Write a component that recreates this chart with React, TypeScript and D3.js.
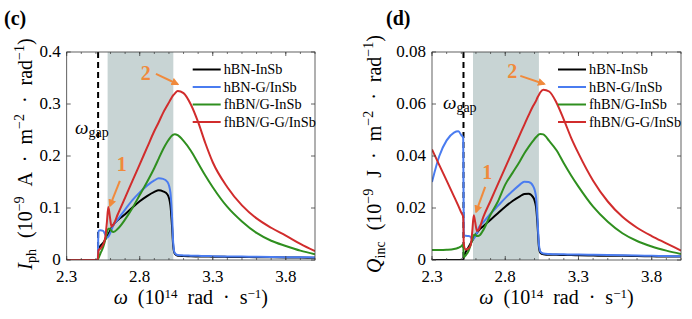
import React from "react";
import * as d3 from "d3";

// frequency grid, 10^14 rad/s
const omega = [
  2.30, 2.35, 2.40, 2.45, 2.48, 2.50, 2.513, 2.517, 2.53, 2.55, 2.565, 2.575, 2.585, 2.595,
  2.607, 2.62, 2.65, 2.70, 2.75, 2.80, 2.85, 2.90, 2.93, 2.96, 2.99, 3.01, 3.02, 3.03, 3.04,
  3.06, 3.10, 3.15, 3.20, 3.25, 3.30, 3.40, 3.50, 3.60, 3.70, 3.80, 3.90, 4.00,
];

// (c) photocurrent I_ph
const iphBlack = [
  0, 0, 0, 0, 0, 0, 0, 0.02, 0.027, 0.033, 0.04, 0.045, 0.05, 0.055, 0.062, 0.068, 0.077,
  0.088, 0.101, 0.113, 0.123, 0.131, 0.134, 0.132, 0.126, 0.105, 0.07, 0.025, 0.012, 0.008,
  0.0075, 0.007, 0.0068, 0.0066, 0.0064, 0.006, 0.0057, 0.0054, 0.0051, 0.0048, 0.0046, 0.0044,
];
const iphBlue = [
  0, 0, 0, 0, 0, 0, 0, 0.055, 0.057, 0.056, 0.048, 0.043, 0.045, 0.05, 0.058, 0.067, 0.078,
  0.097, 0.115, 0.13, 0.143, 0.153, 0.157, 0.156, 0.15, 0.13, 0.09, 0.03, 0.013, 0.0095,
  0.0088, 0.0084, 0.008, 0.0077, 0.0074, 0.0069, 0.0065, 0.0061, 0.0058, 0.0055, 0.0052, 0.0049,
];
const iphGreen = [
  0, 0, 0, 0, 0, 0, 0, 0.003, 0.012, 0.025, 0.04, 0.052, 0.06, 0.06, 0.056, 0.054, 0.06,
  0.078, 0.1, 0.125, 0.15, 0.177, 0.195, 0.213, 0.228, 0.236, 0.239, 0.241, 0.242, 0.24,
  0.229, 0.21, 0.186, 0.162, 0.14, 0.102, 0.074, 0.052, 0.037, 0.027, 0.018, 0.011,
];
const iphRed = [
  0, 0, 0, 0, 0, 0, 0, 0.018, 0.022, 0.03, 0.045, 0.072, 0.102, 0.085, 0.064, 0.068, 0.088,
  0.12, 0.152, 0.184, 0.216, 0.248, 0.265, 0.283, 0.298, 0.308, 0.313, 0.317, 0.32, 0.325,
  0.321, 0.299, 0.265, 0.224, 0.188, 0.14, 0.105, 0.08, 0.062, 0.047, 0.031, 0.017,
];

// (d) incident heat flux Q_inc
const qincBlack = [
  0, 0, 0, 0, 0, 0, 0, 0.001, 0.003, 0.005, 0.0065, 0.0075, 0.0085, 0.0095, 0.0105, 0.0115,
  0.013, 0.0155, 0.018, 0.0205, 0.0227, 0.0245, 0.0254, 0.0255, 0.0242, 0.0205, 0.014, 0.005,
  0.0028, 0.0022, 0.002, 0.002, 0.0019, 0.0019, 0.0018, 0.0017, 0.0016, 0.0016, 0.0015,
  0.0014, 0.0013, 0.0013,
];
const qincBlue = [
  0.03, 0.04, 0.046, 0.049, 0.0495, 0.048, 0.047, 0.0095, 0.0093, 0.0092, 0.0088, 0.0078,
  0.0082, 0.009, 0.0105, 0.0125, 0.0145, 0.0178, 0.0208, 0.0238, 0.0265, 0.029, 0.0301, 0.03,
  0.0285, 0.0245, 0.016, 0.006, 0.0032, 0.0025, 0.0023, 0.0022, 0.0022, 0.0021, 0.0021, 0.002,
  0.0019, 0.0018, 0.0017, 0.0016, 0.0015, 0.0014,
];
const qincGreen = [
  0.0038, 0.0038, 0.0039, 0.0042, 0.0047, 0.0053, 0.006, 0.001, 0.0018, 0.0035, 0.006, 0.0078,
  0.0095, 0.0098, 0.0092, 0.0093, 0.0115, 0.0175, 0.0225, 0.029, 0.0335, 0.038, 0.041, 0.0435,
  0.0458, 0.0472, 0.0478, 0.0483, 0.0485, 0.0483, 0.0458, 0.0422, 0.0372, 0.0325, 0.0282,
  0.0205, 0.0147, 0.0103, 0.0073, 0.0052, 0.0036, 0.0023,
];
const qincRed = [
  0.0425, 0.0365, 0.0305, 0.0245, 0.0208, 0.0182, 0.0165, 0.006, 0.004, 0.0045, 0.006, 0.011,
  0.0172, 0.0145, 0.0112, 0.0118, 0.0165, 0.0228, 0.0292, 0.0355, 0.0419, 0.0482, 0.052,
  0.0557, 0.0592, 0.0612, 0.0625, 0.0635, 0.0645, 0.0655, 0.0648, 0.0605, 0.054, 0.047,
  0.041, 0.0305, 0.0225, 0.0166, 0.0124, 0.0092, 0.0064, 0.0036,
];

const seriesNames = ["hBN-InSb", "hBN-G/InSb", "fhBN/G-InSb", "fhBN/G-G/InSb"];
const seriesColors = ["#000000", "#4a7cf0", "#2f8f1f", "#d12c2c"];
const xTicks = [2.3, 2.8, 3.3, 3.8];
const iphTicks = [0, 0.1, 0.2, 0.3, 0.4];
const qincTicks = [0, 0.02, 0.04, 0.06, 0.08];
const omegaGap = 2.515;
const shadeBand = [2.58, 3.03];

const serif = '"Liberation Serif", "Times New Roman", serif';
const orange = "#f08a3c";
const axisColor = "#3a3a3a";

const Panel = ({ left, right, top, bottom, yMax, yTicks, fmt, series, letter, letterX, yLabX, yLab, notes, gapLabel }: any) => {
  const x = d3.scaleLinear().domain([2.3, 4.0]).range([left, right]);
  const y = d3.scaleLinear().domain([0, yMax]).range([bottom, top]);
  const line = d3.line<number>()
    .x((_, i) => x(omega[i]))
    .y(d => y(d))
    .curve(d3.curveMonotoneX);
  const minor = d3.range(23, 41).map(v => v / 10);
  const clipId = "clip" + letter;

  return (
    <g fontFamily={serif}>
      <defs>
        <clipPath id={clipId}>
          <rect x={left} y={top} width={right - left} height={bottom - top} />
        </clipPath>
      </defs>
      <text x={letterX} y={25} fontSize={20} fontWeight="bold">({letter})</text>

      <rect x={x(shadeBand[0])} y={top} width={x(shadeBand[1]) - x(shadeBand[0])} height={bottom - top} fill="#c8d4d4" />
      <line x1={x(omegaGap)} x2={x(omegaGap)} y1={top} y2={bottom} stroke="#000" strokeWidth={2} strokeDasharray="6 4" />

      <g clipPath={`url(#${clipId})`}>
        {series.map((s: number[], i: number) => (
          <path key={i} d={line(s) || ""} fill="none" stroke={seriesColors[i]} strokeWidth={2} strokeLinejoin="round" />
        ))}
      </g>

      {/* axes box */}
      <rect x={left} y={top} width={right - left} height={bottom - top} fill="none" stroke={axisColor} strokeWidth={0.8} />
      {xTicks.map(t => (
        <g key={t}>
          <line x1={x(t)} x2={x(t)} y1={bottom} y2={bottom - 4} stroke={axisColor} strokeWidth={0.8} />
          <line x1={x(t)} x2={x(t)} y1={top} y2={top + 4} stroke={axisColor} strokeWidth={0.8} />
          <text x={x(t)} y={bottom + 22} fontSize={17} textAnchor="middle">{t.toFixed(1)}</text>
        </g>
      ))}
      {minor.map(t => (
        <g key={"m" + t}>
          <line x1={x(t)} x2={x(t)} y1={bottom} y2={bottom - 2} stroke={axisColor} strokeWidth={0.7} />
          <line x1={x(t)} x2={x(t)} y1={top} y2={top + 2} stroke={axisColor} strokeWidth={0.7} />
        </g>
      ))}
      {yTicks.map((t: number) => (
        <g key={t}>
          <line x1={left} x2={left + 4} y1={y(t)} y2={y(t)} stroke={axisColor} strokeWidth={0.8} />
          <line x1={right} x2={right - 4} y1={y(t)} y2={y(t)} stroke={axisColor} strokeWidth={0.8} />
          <text x={left - 6} y={y(t)} dy="0.3em" fontSize={17} textAnchor="end">{fmt(t)}</text>
        </g>
      ))}

      {/* axis labels */}
      <text x={(left + right) / 2} y={304} fontSize={20} textAnchor="middle" wordSpacing={5}>
        <tspan fontStyle="italic">ω</tspan>
        <tspan> (10</tspan>
        <tspan fontSize={13} dy={-6}>14</tspan>
        <tspan dy={6}> rad · s</tspan>
        <tspan fontSize={13} dy={-6}>−1</tspan>
        <tspan dy={6}>)</tspan>
      </text>
      <text transform={`translate(${yLabX},${154}) rotate(-90)`} fontSize={20} textAnchor="middle" wordSpacing={6}>
        <tspan fontStyle="italic">{yLab[0]}</tspan>
        <tspan fontSize={14} dy={4}>{yLab[1]}</tspan>
        <tspan dy={-4}> (10</tspan>
        <tspan fontSize={14} dy={-8}>−9</tspan>
        <tspan dy={8}> {yLab[2]} · m</tspan>
        <tspan fontSize={14} dy={-8}>−2</tspan>
        <tspan dy={8}> · rad</tspan>
        <tspan fontSize={14} dy={-8}>−1</tspan>
        <tspan dy={8}>)</tspan>
      </text>

      {/* gap label */}
      <text x={x(gapLabel[0])} y={y(gapLabel[1])} fontSize={19}>
        <tspan fontStyle="italic">ω</tspan>
        <tspan fontSize={14} dy={3}>gap</tspan>
      </text>

      {/* legend */}
      {seriesNames.map((n, i) => (
        <g key={n}>
          <line x1={left + 126} x2={left + 154} y1={top + 17.5 + i * 17.5} y2={top + 17.5 + i * 17.5} stroke={seriesColors[i]} strokeWidth={2} />
          <text x={left + 157} y={top + 17.5 + i * 17.5} dy="0.33em" fontSize={14.3}>{n}</text>
        </g>
      ))}

      {/* peak annotations */}
      {notes.map((a: any) => (
        <g key={a.label}>
          <text x={x(a.tx)} y={y(a.ty)} dy="0.35em" fontSize={20} fontWeight="bold" fill={orange} textAnchor="middle">{a.label}</text>
          <line x1={x(a.from[0])} y1={y(a.from[1])} x2={x(a.to[0])} y2={y(a.to[1])} stroke={orange} strokeWidth={2} markerEnd="url(#arrowOrange)" />
        </g>
      ))}
    </g>
  );
};

const App = () => {
  return (
    <svg width={692} height={319} style={{ position: "absolute", left: 0, top: 0, background: "#fff" }}>
      <defs>
        <marker id="arrowOrange" viewBox="0 0 10 10" refX={8} refY={5} markerWidth={4} markerHeight={4} orient="auto">
          <path d="M0,0 L10,5 L0,10 z" fill={orange} />
        </marker>
      </defs>
      <Panel
        left={66.7} right={315} top={52} bottom={260}
        yMax={0.4} yTicks={iphTicks} fmt={(d: number) => (d === 0 ? "0" : d.toFixed(1))}
        series={[iphBlack, iphBlue, iphGreen, iphRed]}
        letter="c" letterX={4} yLabX={32} yLab={["I", "ph", "A"]}
        gapLabel={[2.357, 0.242]}
        notes={[
          { label: "2", tx: 2.841, ty: 0.36, from: [2.911, 0.358], to: [3.061, 0.338] },
          { label: "1", tx: 2.677, ty: 0.185, from: [2.664, 0.152], to: [2.596, 0.104] },
        ]}
      />
      <Panel
        left={432} right={681} top={52} bottom={260}
        yMax={0.08} yTicks={qincTicks} fmt={(d: number) => (d === 0 ? "0" : d.toFixed(2))}
        series={[qincBlack, qincBlue, qincGreen, qincRed]}
        letter="d" letterX={386} yLabX={381} yLab={["Q", "inc", "J"]}
        gapLabel={[2.375, 0.0582]}
        notes={[
          { label: "2", tx: 2.848, ty: 0.0727, from: [2.903, 0.0708], to: [3.067, 0.0677] },
          { label: "1", tx: 2.677, ty: 0.0338, from: [2.663, 0.0281], to: [2.601, 0.0185] },
        ]}
      />
    </svg>
  );
};

export default App;
